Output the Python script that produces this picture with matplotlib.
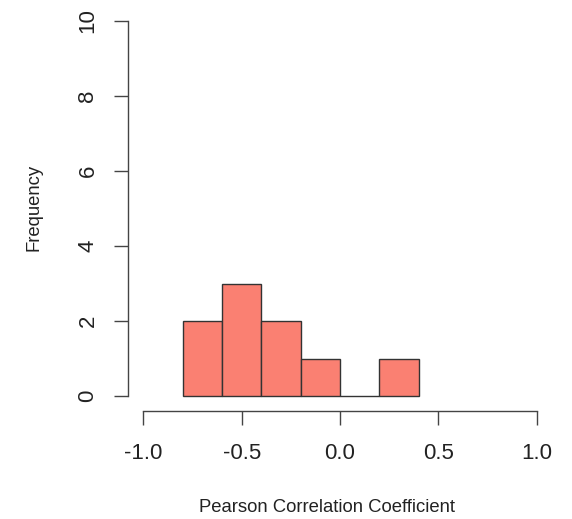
import matplotlib
matplotlib.use("Agg")
import matplotlib.pyplot as plt
import numpy as np

bin_edges = [-0.8, -0.6, -0.4, -0.2, 0.0, 0.2, 0.4]
counts = [2, 3, 2, 1, 0, 1]
x_ticks = [-1.0, -0.5, 0.0, 0.5, 1.0]
x_tick_labels = ["-1.0", "-0.5", "0.0", "0.5", "1.0"]
y_ticks = [0, 2, 4, 6, 8, 10]

plt.rcParams['font.family'] = ['Liberation Sans', 'DejaVu Sans']

fig = plt.figure(figsize=(5.72, 5.19), dpi=100)
W, H = 572, 519
left, right, top, bottom = 127.6, 552.4, 6, 411
ax = fig.add_axes([left / W, (H - bottom) / H, (right - left) / W, (bottom - top) / H])

edges = np.array(bin_edges)
widths = np.diff(edges)
ax.bar(edges[:-1], counts, width=widths, align='edge', color='#FA8072',
       edgecolor='#333333', linewidth=1.0)

ax.set_xlim(-1.08, 1.08)
ax.set_ylim(-0.4, 10.4)
for s in ['top', 'right']:
    ax.spines[s].set_visible(False)
ax.spines['bottom'].set_bounds(-1, 1)
ax.spines['left'].set_bounds(0, 10)
for s in ['bottom', 'left']:
    ax.spines[s].set_color('#444444')
    ax.spines[s].set_linewidth(1.0)

ax.set_xticks(x_ticks)
ax.set_xticklabels(x_tick_labels)
ax.set_yticks(y_ticks)
ax.set_yticklabels([str(v) for v in y_ticks], rotation=90, va='center')
ax.tick_params(axis='both', length=10, width=1.0, color='#444444',
               labelsize=16, labelcolor='#222222')
ax.tick_params(axis='x', pad=13)
ax.tick_params(axis='y', pad=11)

fig.text(327 / W, 1 - 508 / H, "Pearson Correlation Coefficient", ha='center', va='center',
         fontsize=13.3, color='#222222')
fig.text(34 / W, 1 - 207 / H, "Frequency", ha='center', va='center', rotation=90,
         fontsize=13.3, color='#222222')

fig.savefig("out.png", dpi=100)
